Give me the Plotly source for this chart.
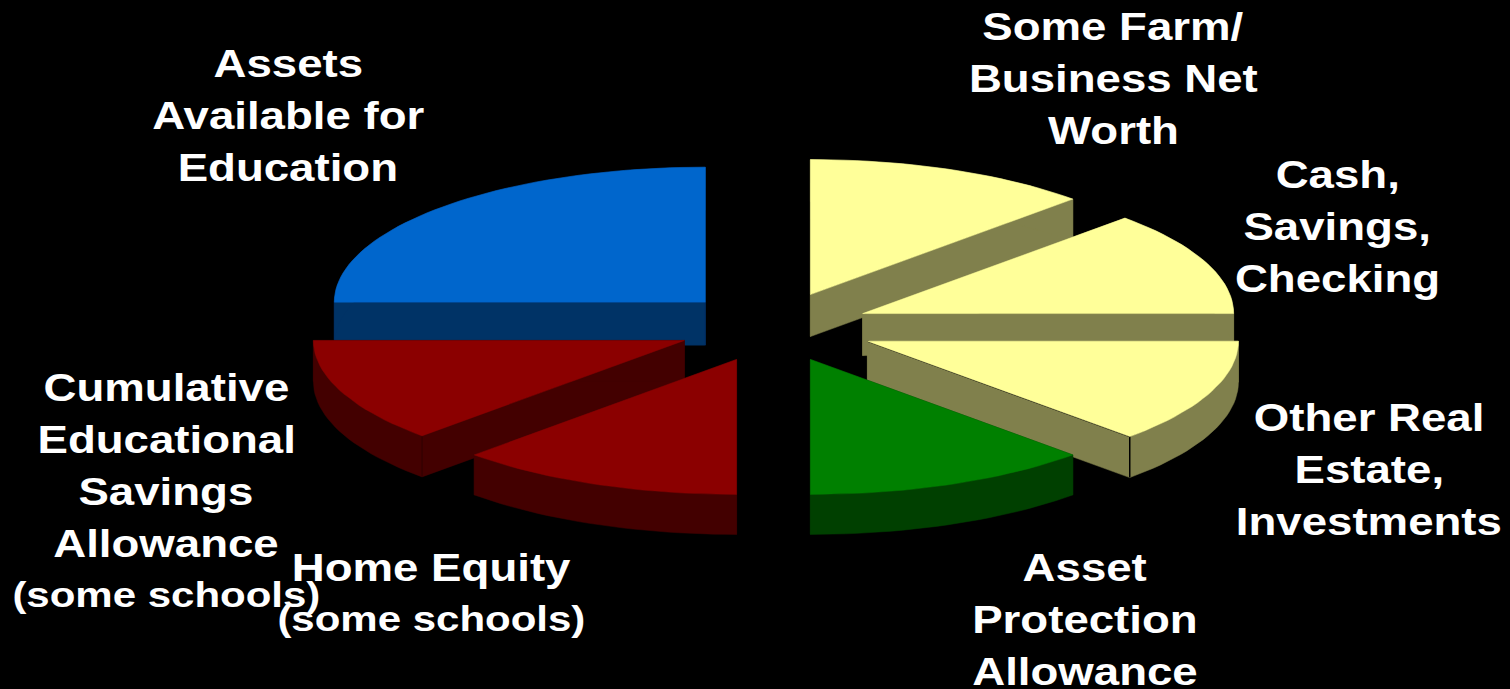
import math
import plotly.graph_objects as go

# Slices in clockwise order, starting at twelve o'clock
categories = [
    "Some Farm/Business Net Worth",
    "Cash, Savings, Checking",
    "Other Real Estate, Investments",
    "Asset Protection Allowance",
    "Home Equity",
    "Cumulative Educational Savings Allowance",
    "Assets Available for Education",
]
shares = [12.5, 12.5, 12.5, 12.5, 12.5, 12.5, 25.0]

label_lines = [
    ["Some Farm/", "Business Net", "Worth"],
    ["Cash,", "Savings,", "Checking"],
    ["Other Real", "Estate,", "Investments"],
    ["Asset", "Protection", "Allowance"],
    ["Home Equity", "(some schools)"],
    ["Cumulative", "Educational", "Savings", "Allowance", "(some schools)"],
    ["Assets", "Available for", "Education"],
]

top_colors = ["#FFFF99", "#FFFF99", "#FFFF99", "#008000", "#8B0000", "#8B0000", "#0066CC"]
side_colors = ["#80804C", "#80804C", "#80804C", "#004000", "#430000", "#430000", "#003366"]
explode = [0.26, 0.26, 0.274, 0.26, 0.26, 0.26, 0.26]
depths = [42, 42, 41, 40, 40, 41, 43]

# Pie geometry in canvas units
CENTER_X, CENTER_Y = 773.5, 327
RADIUS_X, RADIUS_Y = 371, 135
ARC_STEPS_PER_PERCENT = 2

# Label block placement: centre x and the y of the first line
label_anchor = [(1113, 27), (1337, 175), (1369, 418), (1085, 568), (431, 568), (166, 388), (288, 64)]
LINE_STEP = 52
NOTE_LIFT = 2
FONT = "Liberation Sans, Arial, sans-serif"
MAIN_SIZE = 38
NOTE_SIZE = 35
TEXT_WIDEN = 1.2


def point(cx, cy, angle):
    """Project a clockwise angle from twelve o'clock onto the tilted pie plane."""
    return cx + RADIUS_X * math.sin(angle), cy - RADIUS_Y * math.cos(angle)


def add_polygon(fig, poly, color, **kwargs):
    fig.add_trace(go.Scatter(
        x=[p[0] for p in poly] + [poly[0][0]],
        y=[p[1] for p in poly] + [poly[0][1]],
        mode="lines", fill="toself", fillcolor=color,
        line=dict(color=color, width=0.5), **kwargs,
    ))


total = sum(shares)
slices = []
running = 0.0
for i, share in enumerate(shares):
    start = running / total * 2 * math.pi
    running += share
    end = running / total * 2 * math.pi
    mid = (start + end) / 2
    cx = CENTER_X + explode[i] * RADIUS_X * math.sin(mid)
    cy = CENTER_Y - explode[i] * RADIUS_Y * math.cos(mid)
    n = max(2, int(share * ARC_STEPS_PER_PERCENT))
    arc = [point(cx, cy, start + (end - start) * k / n) for k in range(n + 1)]
    slices.append(dict(i=i, cx=cx, cy=cy, arc=arc))

fig = go.Figure()

# Back slices first so the nearer ones paint over them
for s in sorted(slices, key=lambda item: item["cy"]):
    i, apex, arc = s["i"], (s["cx"], s["cy"]), s["arc"]
    depth = depths[i]

    def down(p):
        return p[0], p[1] + depth

    # Two radial walls, then the curved rim
    for corner in (arc[0], arc[-1]):
        add_polygon(fig, [apex, corner, down(corner), down(apex)], side_colors[i], hoverinfo="skip")
    add_polygon(fig, arc + [down(p) for p in reversed(arc)], side_colors[i], hoverinfo="skip")

    # Creases where a radial wall meets the rim on the front-facing corners
    if i == 2:
        corner = arc[-1]
        fig.add_trace(go.Scatter(x=[apex[0], corner[0], corner[0]], y=[apex[1], corner[1], corner[1] + depth],
                                 mode="lines", line=dict(color="#000000", width=1.5), hoverinfo="skip"))
    if i == 5:
        corner = arc[0]
        fig.add_trace(go.Scatter(x=[corner[0], corner[0]], y=[corner[1], corner[1] + depth],
                                 mode="lines", line=dict(color="#300000", width=1), hoverinfo="skip"))

    add_polygon(fig, [apex] + arc, top_colors[i], name=categories[i], hoverinfo="name")

annotations = []
for lines, (lx, ly) in zip(label_lines, label_anchor):
    for k, text in enumerate(lines):
        note = text.startswith("(")
        annotations.append(dict(x=lx, y=ly + k * LINE_STEP - (NOTE_LIFT if note else 0), text=text,
                                xref="x", yref="y", xanchor="center", yanchor="middle", showarrow=False,
                                font=dict(family=FONT, size=NOTE_SIZE if note else MAIN_SIZE,
                                          color="#FFFFFF", weight="bold")))

hidden = dict(visible=False, fixedrange=True)
fig.update_layout(
    width=1510, height=689, autosize=False,
    margin=dict(l=0, r=0, t=0, b=0),
    paper_bgcolor="#000000", plot_bgcolor="#000000",
    showlegend=False,
    xaxis=dict(range=[0, 1510], **hidden),
    yaxis=dict(range=[689, 0], **hidden),
    annotations=annotations,
)

# Widen the label glyphs about their own centres
widen_labels = """
var gd = document.getElementById('{plot_id}');
gd.querySelectorAll('.annotation-text').forEach(function (el) {
  var box = el.getBBox();
  var mid = box.x + box.width / 2;
  var base = el.getAttribute('transform') || '';
  el.setAttribute('transform', base + ' translate(' + mid + ' 0) scale(%s 1) translate(' + (-mid) + ' 0)');
});
""" % TEXT_WIDEN

fig.write_html("out.html", config=dict(displayModeBar=False), post_script=widen_labels)
